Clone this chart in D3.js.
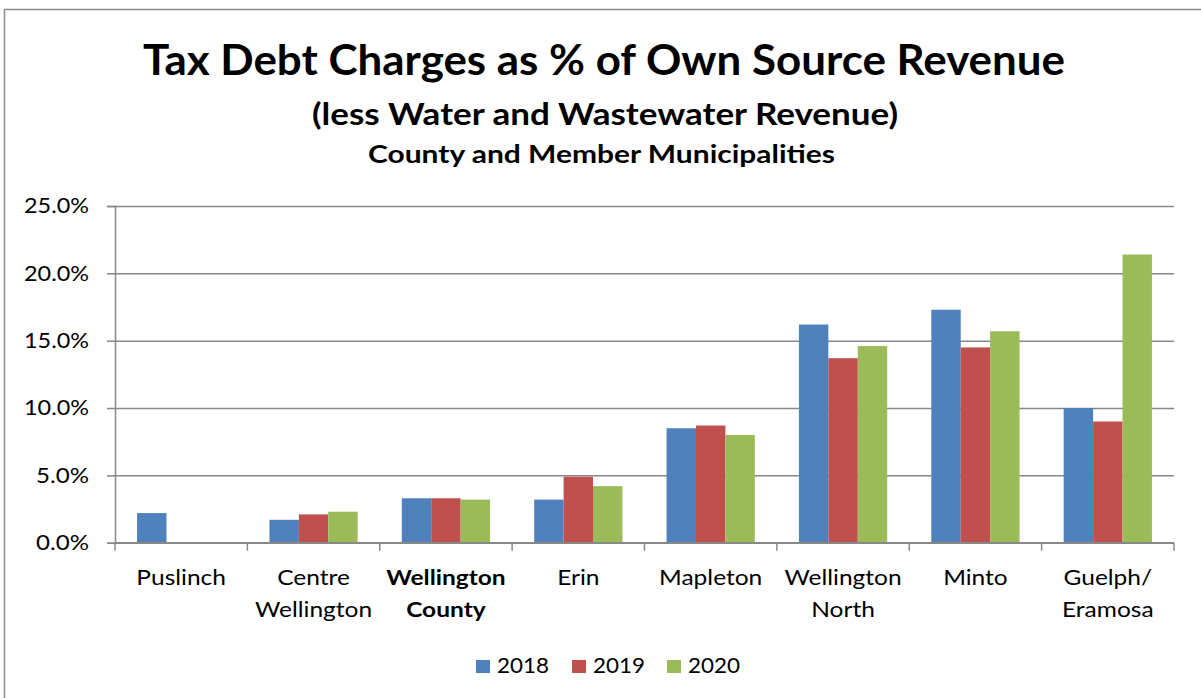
<!DOCTYPE html>
<html>
<head>
<meta charset="utf-8">
<script src="https://cdn.jsdelivr.net/npm/d3@7"></script>
<style>
  html, body { margin: 0; padding: 0; background: #fff; }
  svg { display: block; }
  text { font-family: Lato, "Open Sans", "Noto Sans", sans-serif; fill: #000; }
</style>
</head>
<body>
<svg id="chart" width="1201" height="698"></svg>
<script>
const categories = ["Puslinch", "Centre Wellington", "Wellington County", "Erin", "Mapleton", "Wellington North", "Minto", "Guelph/ Eramosa"];
const categoryLines = [["Puslinch"], ["Centre", "Wellington"], ["Wellington", "County"], ["Erin"], ["Mapleton"], ["Wellington", "North"], ["Minto"], ["Guelph/", "Eramosa"]];
const boldCategory = "Wellington County";
const years = ["2018", "2019", "2020"];
const values2018 = [2.2, 1.7, 3.3, 3.2, 8.5, 16.2, 17.3, 10.0];
const values2019 = [null, 2.1, 3.3, 4.9, 8.7, 13.7, 14.5, 9.0];
const values2020 = [null, 2.3, 3.2, 4.2, 8.0, 14.6, 15.7, 21.4];
const yTicks = [0, 5, 10, 15, 20, 25];
const colors = ["#4F81BD", "#C0504D", "#9BBB59"];
const titleLines = ["Tax Debt Charges as % of Own Source Revenue", "(less Water and Wastewater Revenue)", "County and Member Municipalities"];

(function () {
const series = [values2018, values2019, values2020];
const svg = d3.select("#chart");

// outer chart border
svg.append("rect").attr("x", 4.5).attr("y", 9.5).attr("width", 1400).attr("height", 900)
  .attr("fill", "none").attr("stroke", "#8c8c8c").attr("stroke-width", 1.5);

// Titles
const titleSpecs = [
  {y: 75, size: 42, w: 922, cx: 604},
  {y: 125, size: 31, w: 586, cx: 605},
  {y: 163, size: 24, w: 467, cx: 601.5}
];
titleLines.forEach((t, i) => {
  const s = titleSpecs[i];
  svg.append("text").attr("x", s.cx).attr("y", s.y).attr("text-anchor", "middle")
    .attr("font-size", s.size).attr("font-weight", "bold")
    .attr("textLength", s.w).attr("lengthAdjust", "spacingAndGlyphs").text(t);
});

const pLeft = 115, pRight = 1174, pTop = 206, pBottom = 542.7;
const x = d3.scaleBand().domain(categories).range([pLeft, pRight]).paddingInner(0).paddingOuter(0);
const xi = d3.scaleBand().domain(years).range([0, x.bandwidth()]).paddingInner(0).paddingOuter(0.75);
const y = d3.scaleLinear().domain([0, 25]).range([pBottom, pTop]);

// gridlines
const grid = svg.append("g").attr("transform", `translate(${pLeft},0)`)
  .call(d3.axisLeft(y).tickValues(yTicks).tickSize(-(pRight - pLeft)).tickFormat(""));
grid.select(".domain").remove();
grid.selectAll("line").attr("stroke", "#888888").attr("stroke-width", 1.5);

// y axis
const yAxis = svg.append("g").attr("transform", `translate(${pLeft},0)`)
  .call(d3.axisLeft(y).tickValues(yTicks).tickSize(8).tickPadding(18).tickFormat(d => d.toFixed(1) + "%"));
yAxis.select(".domain").attr("stroke", "#888888").attr("stroke-width", 1.5);
yAxis.selectAll("line").attr("stroke", "#888888").attr("stroke-width", 1.5);
yAxis.selectAll("text").attr("font-size", 21).attr("font-family", "Lato, sans-serif").attr("fill", "#000")
  .attr("lengthAdjust", "spacingAndGlyphs")
  .attr("textLength", d => (d.toFixed(1) + "%").length === 5 ? 65 : 53);

// bars
const groups = svg.append("g").selectAll("g").data(categories).join("g")
  .attr("transform", d => `translate(${x(d)},0)`);
groups.selectAll("rect").data((d, ci) => years.map((yr, si) => ({yr, si, v: series[si][ci]})).filter(o => o.v != null))
  .join("rect")
  .attr("x", o => xi(o.yr))
  .attr("width", xi.bandwidth())
  .attr("y", o => y(o.v))
  .attr("height", o => y(0) - y(o.v))
  .attr("fill", o => colors[o.si]);

// x axis line and ticks
const xAxisG = svg.append("g").attr("transform", `translate(0,${pBottom})`);
xAxisG.append("line").attr("x1", pLeft).attr("x2", pRight).attr("y1", 0).attr("y2", 0)
  .attr("stroke", "#888888").attr("stroke-width", 1.5);
const boundaries = categories.map(c => x(c)).concat([pRight]);
xAxisG.selectAll("line.tick").data(boundaries).join("line").attr("class", "tick")
  .attr("x1", d => d).attr("x2", d => d).attr("y1", 0).attr("y2", 8)
  .attr("stroke", "#888888").attr("stroke-width", 1.5);

// x labels (horizontally widened to match reference proportions)
categories.forEach((c, i) => {
  categoryLines[i].forEach((ln, j) => {
    const t = svg.append("text").attr("text-anchor", "middle").attr("font-size", 21.5)
      .attr("font-weight", c === boldCategory ? "bold" : "normal")
      .attr("x", x(c) + x.bandwidth() / 2).attr("y", 585 + j * 32).text(ln);
    const w = t.node().getComputedTextLength();
    t.attr("textLength", w * 1.14).attr("lengthAdjust", "spacingAndGlyphs");
  });
});

// legend
const legendX = [476, 572, 667];
const leg = svg.append("g");
years.forEach((yr, i) => {
  leg.append("rect").attr("x", legendX[i]).attr("y", 660).attr("width", 14).attr("height", 13).attr("fill", colors[i]);
  leg.append("text").attr("x", legendX[i] + 21).attr("y", 673).attr("font-size", 21).attr("textLength", 52)
    .attr("lengthAdjust", "spacingAndGlyphs").text(yr);
});
})();
</script>
</body>
</html>
